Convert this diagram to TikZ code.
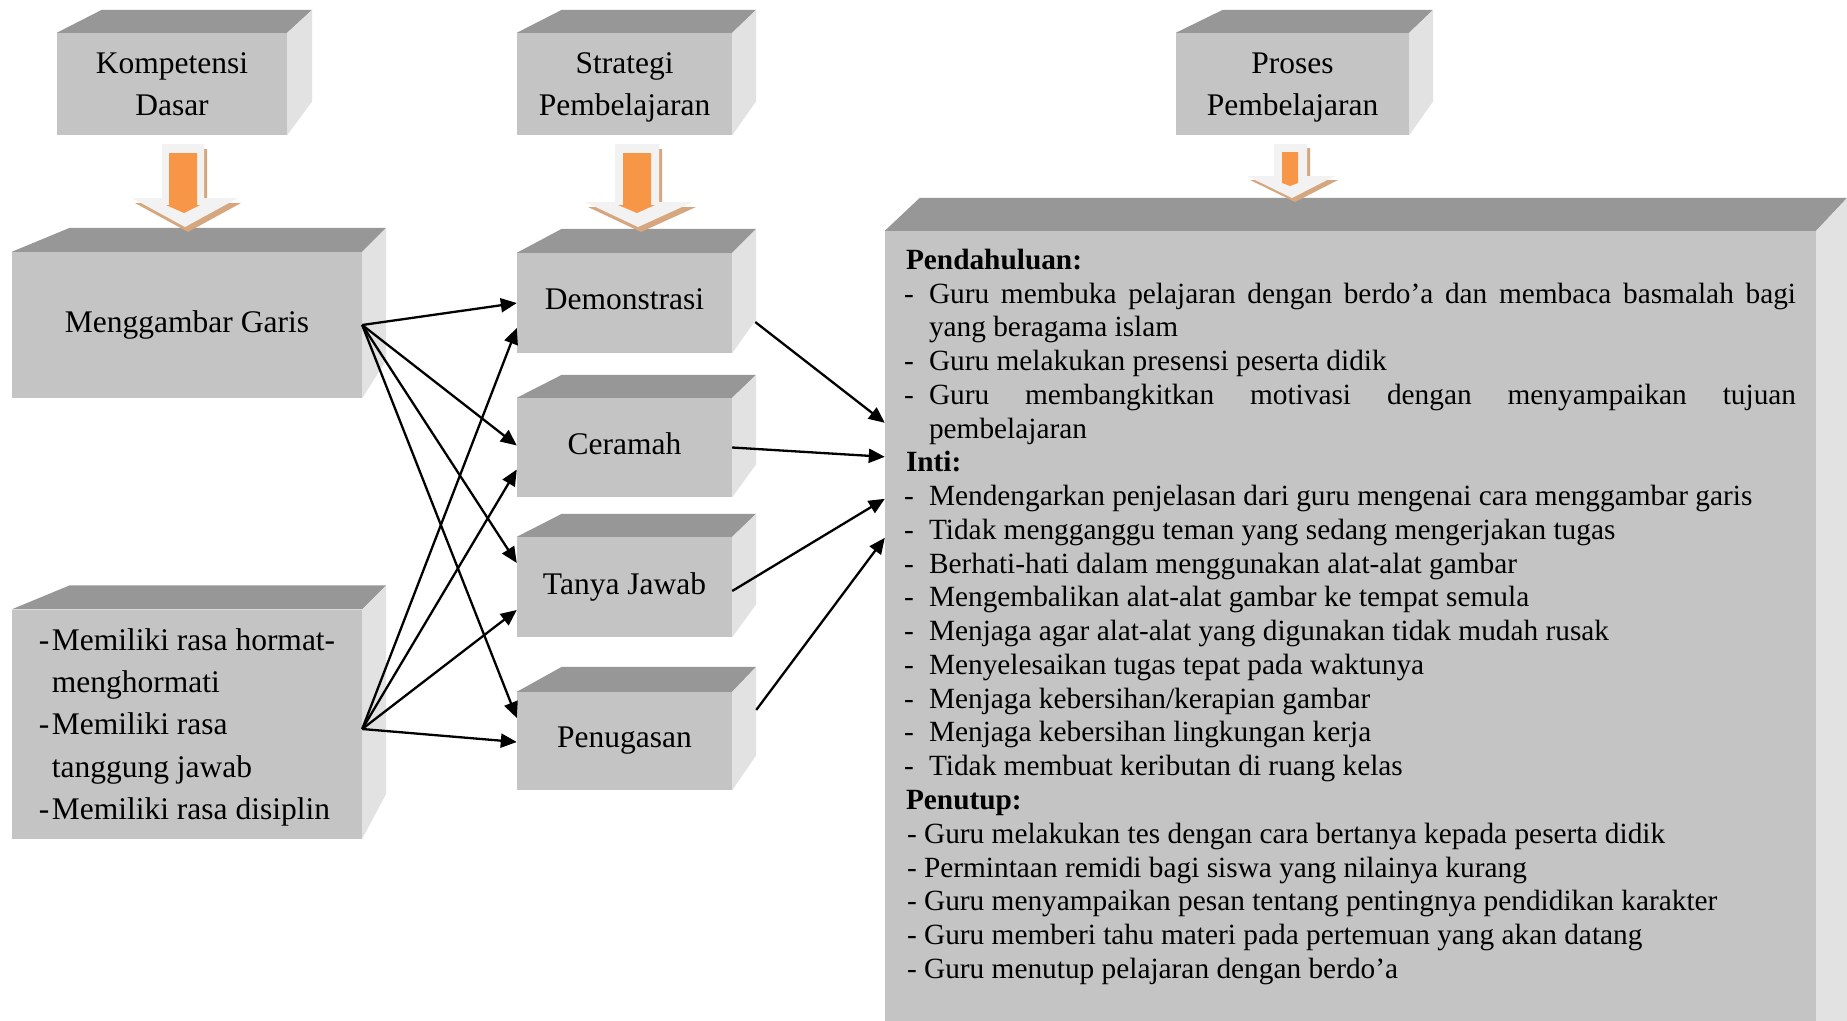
\documentclass[tikz,border=0pt]{standalone}
\usepackage{fontspec}
\setmainfont{Liberation Serif}
\usetikzlibrary{arrows.meta,calc}
\definecolor{frontgray}{HTML}{C4C4C4}
\definecolor{topgray}{HTML}{979797}
\definecolor{sidegray}{HTML}{E2E2E2}
\definecolor{arroworange}{HTML}{F79646}
\definecolor{arrowlight}{HTML}{F2F2F2}
\definecolor{arrowshadow}{HTML}{D6A77E}
\newcommand{\boxfont}{\fontsize{31.5}{42.4}\selectfont}
\newcommand{\listfont}{\fontsize{29.33}{33.76}\selectfont}
% top and right face of a box: node, left shift, right shift, depth, extra rise
\newcommand{\cubefaces}[5]{
	\fill[topface] (#1.north west) -- ++(#2,-#4) -- ($(#1.north east)+(#3,-#4)$) -- (#1.north east) -- cycle;
	\fill[sideface] (#1.north east) -- ++(#3,-#4) -- ($(#1.south east)+(#3,-#4-#5)$) -- (#1.south east) -- cycle;
}
\newcommand{\dashitem}[1]{\hangindent=25pt\hangafter=1\noindent\makebox[25pt][l]{-}#1\par}
\newcommand{\closeitem}[1]{\noindent\hspace*{3pt}- #1\par}
\newcommand{\listhead}[1]{\noindent\hspace*{2pt}{\bfseries #1}\par}
\tolerance=10000
\hyphenpenalty=10000
\tikzset{
	>={Triangle[length=16pt,width=14pt]}, % filled heads
	frontbox/.style={fill=frontgray, inner sep=0pt, font=\boxfont, text depth=0pt},
	oneline/.style={text depth=7pt},
	topface/.style={fill=topgray},
	sideface/.style={fill=sidegray},
	conn/.style={->, line width=2.3pt},
	listtext/.style={text width=892pt, align=justify, inner sep=0pt, font=\listfont},
}

\begin{document}
\begin{tikzpicture}[x=1pt,y=-1pt]
	\path[use as bounding box, fill=white] (0,0) rectangle (1847,1020);

	% heading boxes
	\node[frontbox, minimum width=230pt, minimum height=102pt, align=center] (KD) at (172,84) {Kompetensi\\Dasar};
	\node[frontbox, minimum width=215pt, minimum height=102pt, align=center] (SP) at (624.5,84) {Strategi\\Pembelajaran};
	\node[frontbox, minimum width=233pt, minimum height=102pt, align=center] (PP) at (1292.5,84) {Proses\\Pembelajaran};
	\cubefaces{KD}{45}{25}{23}{11}
	\cubefaces{SP}{45}{24}{23}{11}
	\cubefaces{PP}{47}{24}{23}{11}

	% left column
	\node[frontbox, oneline, minimum width=350pt, minimum height=146pt] (MG) at (187,325) {Menggambar Garis};
	\node[frontbox, minimum width=350pt, minimum height=229pt, align=left] (LB) at (187,724) {\makebox[13pt][l]{-}Memiliki rasa hormat-\\\hspace*{13pt}menghormati\\\makebox[13pt][l]{-}Memiliki rasa\\\hspace*{13pt}tanggung jawab\\\makebox[13pt][l]{-}Memiliki rasa disiplin};
	\cubefaces{MG}{58}{24}{24}{14}
	\cubefaces{LB}{58}{24}{24}{21}

	% strategies
	\node[frontbox, oneline, minimum width=215pt, minimum height=100pt] (Demo) at (624.5,303) {Demonstrasi};
	\node[frontbox, oneline, minimum width=215pt, minimum height=99pt] (Cer) at (624.5,447.5) {Ceramah};
	\node[frontbox, oneline, minimum width=215pt, minimum height=100pt] (TJ) at (624.5,587) {Tanya Jawab};
	\node[frontbox, oneline, minimum width=215pt, minimum height=98pt] (Pen) at (624.5,741) {Penugasan};
	\cubefaces{Demo}{45}{24}{24}{10}
	\cubefaces{Cer}{45}{24}{23}{10}
	\cubefaces{TJ}{45}{24}{23}{10}
	\cubefaces{Pen}{45}{24}{25}{10}

	% process box
	\node[frontbox, minimum width=931pt, minimum height=869pt] (PB) at (1350.5,665.5) {};
	\cubefaces{PB}{35}{31}{33}{0}
	\node[listtext, anchor=north west] (PBtext) at ($(PB.north west)+(19,18)$) {%
		\listhead{Pendahuluan:}
		\dashitem{Guru membuka pelajaran dengan berdo’a dan membaca basmalah bagi\linebreak yang beragama islam}
		\dashitem{Guru melakukan presensi peserta didik}
		\dashitem{Guru membangkitkan motivasi dengan menyampaikan tujuan\linebreak pembelajaran}
		\listhead{Inti:}
		\dashitem{Mendengarkan penjelasan dari guru mengenai cara menggambar garis}
		\dashitem{Tidak mengganggu teman yang sedang mengerjakan tugas}
		\dashitem{Berhati-hati dalam menggunakan alat-alat gambar}
		\dashitem{Mengembalikan alat-alat gambar ke tempat semula}
		\dashitem{Menjaga agar alat-alat yang digunakan tidak mudah rusak}
		\dashitem{Menyelesaikan tugas tepat pada waktunya}
		\dashitem{Menjaga kebersihan/kerapian gambar}
		\dashitem{Menjaga kebersihan lingkungan kerja}
		\dashitem{Tidak membuat keributan di ruang kelas}
		\listhead{Penutup:}
		\closeitem{Guru melakukan tes dengan cara bertanya kepada peserta didik}
		\closeitem{Permintaan remidi bagi siswa yang nilainya kurang}
		\closeitem{Guru menyampaikan pesan tentang pentingnya pendidikan karakter}
		\closeitem{Guru memberi tahu materi pada pertemuan yang akan datang}
		\closeitem{Guru menutup pelajaran dengan berdo’a}};

	% block arrows under the headings
	\fill[arrowshadow, shift={(3,5)}] (162,144) -- (204,144) -- (204,198) -- (238,198) -- (185,227) -- (132,198) -- (162,198) -- cycle;
	\fill[arrowlight] (162,144) -- (204,144) -- (204,198) -- (238,198) -- (185,227) -- (132,198) -- (162,198) -- cycle;
	\fill[arroworange] (169,153) -- (197,153) -- (197,205) -- (200,205) -- (184,213) -- (166,205) -- (169,205) -- cycle;

	\fill[arrowshadow, shift={(3,5)}] (615,144) -- (659,144) -- (659,202) -- (693,202) -- (638,227) -- (585,202) -- (615,202) -- cycle;
	\fill[arrowlight] (615,144) -- (659,144) -- (659,202) -- (693,202) -- (638,227) -- (585,202) -- (615,202) -- cycle;
	\fill[arroworange] (623,153) -- (651,153) -- (651,205) -- (655,205) -- (637,213) -- (618,205) -- (623,205) -- cycle;

	\fill[arrowshadow, shift={(3,4)}] (1274,144) -- (1307,144) -- (1307,176) -- (1335,176) -- (1292,198) -- (1247,176) -- (1274,176) -- cycle;
	\fill[arrowlight] (1274,144) -- (1307,144) -- (1307,176) -- (1335,176) -- (1292,198) -- (1247,176) -- (1274,176) -- cycle;
	\fill[arroworange] (1282,152) -- (1298,152) -- (1298,183) -- (1290,186) -- (1282,183) -- cycle;

	% connectors
	\draw[conn] (MG.east) -- (Demo.west);
	\draw[conn] (MG.east) -- ($(Cer.west)+(0,-2)$);
	\draw[conn] (MG.east) -- ($(TJ.west)+(0,-24)$);
	\draw[conn] (MG.east) -- ($(Pen.west)+(0,-23)$);
	\draw[conn] ($(LB.east)+(0,5)$) -- ($(Demo.west)+(0,25)$);
	\draw[conn] ($(LB.east)+(0,5)$) -- ($(Cer.west)+(0,22)$);
	\draw[conn] ($(LB.east)+(0,5)$) -- ($(TJ.west)+(0,23)$);
	\draw[conn] ($(LB.east)+(0,5)$) -- ($(Pen.west)+(0,1)$);

	\draw[conn] ($(Demo.east)+(23,19)$) -- ($(PB.north west)+(0,192)$);
	\draw[conn] (Cer.east) -- ($(PB.north west)+(0,226)$);
	\draw[conn] ($(TJ.east)+(0,4)$) -- ($(PB.north west)+(0,268)$);
	\draw[conn] ($(Pen.east)+(24,-31)$) -- ($(PB.north west)+(0,307)$);
\end{tikzpicture}
\end{document}
